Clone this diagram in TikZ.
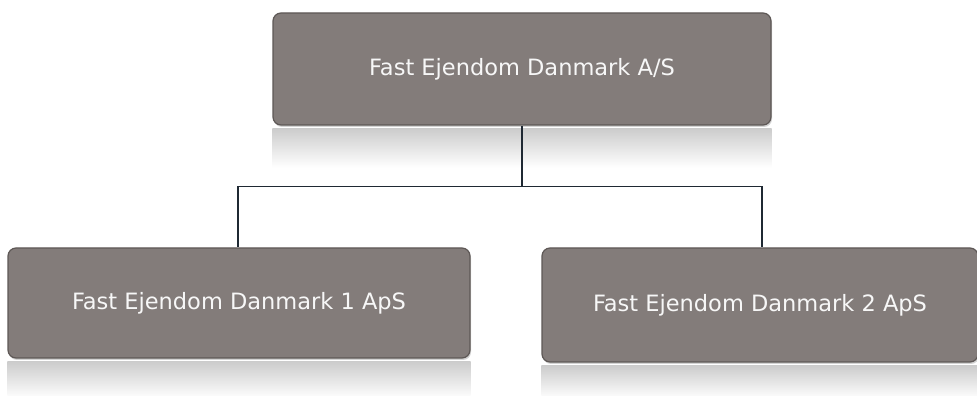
\documentclass[tikz,border=0pt]{standalone}
\usepackage{fontspec}
\setmainfont{DejaVu Sans}
\usepackage{tikz}
\usetikzlibrary{shadows}
\usepackage{xcolor}
\definecolor{boxgray}{HTML}{837C7A}
\definecolor{boxedge}{HTML}{5E5856}
\definecolor{linkblue}{HTML}{1F2933}

\tikzset{
  company/.style={rectangle, rounded corners=8pt, fill=boxgray, draw=boxedge, line width=1.2pt,
    text=white!94!gray, font=\fontsize{22.5}{26}\selectfont, inner sep=0pt,
    drop shadow={shadow xshift=1pt, shadow yshift=-2pt, opacity=0.35}},
  mirror/.style={top color=gray!40, bottom color=white, draw=none},
  link/.style={draw=linkblue, line width=1.8pt}
}

\begin{document}
\begin{tikzpicture}[x=1pt,y=1pt]
\useasboundingbox (0,0) rectangle (977,396);

% Parent company
\node[company, minimum width=498pt, minimum height=112pt] (top) at (522,327) {Fast Ejendom Danmark A/S};

% Subsidiaries
\node[company, minimum width=462pt, minimum height=110pt] (sub1) at (239,93) {Fast Ejendom Danmark 1 ApS};
\node[company, minimum width=436pt, minimum height=114pt] (sub2) at (760,91) {Fast Ejendom Danmark 2 ApS};

% Reflections
\shade[mirror] ([yshift=-3pt]top.south west) rectangle ([yshift=-42pt]top.south east);
\shade[mirror] ([yshift=-3pt]sub1.south west) rectangle ([yshift=-40pt]sub1.south east);
\shade[mirror] ([yshift=-3pt]sub2.south west) rectangle ([yshift=-36pt]sub2.south east);

% Connections
\draw[link] (top.south) -- ++(0,-61) coordinate (split);
\draw[link] (split) -| ([xshift=-1pt]sub1.north);
\draw[link] (split) -| ([xshift=2pt]sub2.north);
\end{tikzpicture}
\end{document}
